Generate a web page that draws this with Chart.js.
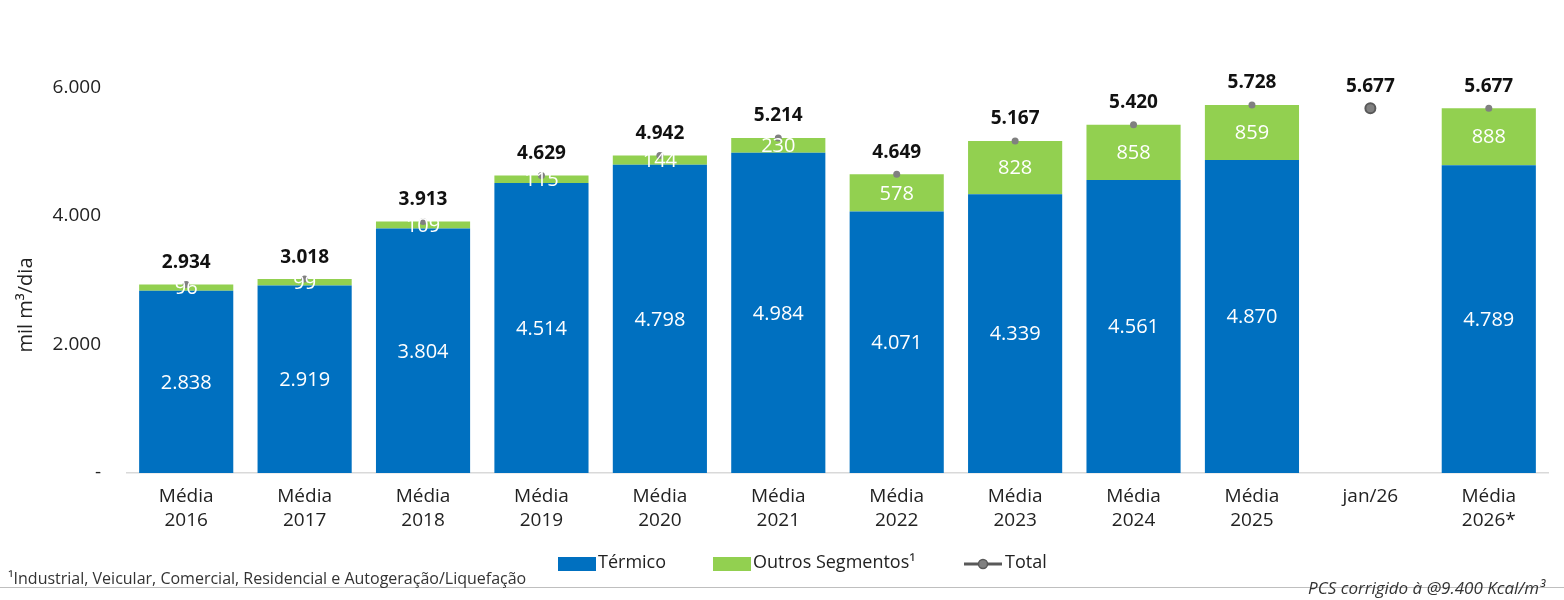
<!DOCTYPE html>
<html>
<head>
<meta charset="utf-8">
<script src="https://cdn.jsdelivr.net/npm/chart.js@4/dist/chart.umd.min.js"></script>
<style>
  html, body { margin: 0; padding: 0; background: #ffffff; }
  #wrap { position: relative; width: 1564px; height: 600px; }
</style>
</head>
<body>
<div id="wrap"><canvas id="c" width="1564" height="600"></canvas></div>
<script>
const categories = [["Média","2016"],["Média","2017"],["Média","2018"],["Média","2019"],["Média","2020"],["Média","2021"],["Média","2022"],["Média","2023"],["Média","2024"],["Média","2025"],["jan/26"],["Média","2026*"]];
const termico = [2838, 2919, 3804, 4514, 4798, 4984, 4071, 4339, 4561, 4870, null, 4789];
const outros = [96, 99, 109, 115, 144, 230, 578, 828, 858, 859, null, 888];
const total = [2934, 3018, 3913, 4629, 4942, 5214, 4649, 5167, 5420, 5728, 5677, 5677];
const yTicks = [0, 2000, 4000, 6000];
const seriesNames = ["Térmico", "Outros Segmentos¹", "Total"];
const yTitle = "mil m³/dia";
const footnote = "¹Industrial, Veicular, Comercial, Residencial e Autogeração/Liquefação";
const sourceNote = "PCS corrigido à @9.400 Kcal/m³";

const FONT = "'Open Sans', sans-serif";
const BLUE = "#0070C0";
const GREEN = "#92D050";

function fmt(v) {
  return String(Math.round(v)).replace(/\B(?=(\d{3})+(?!\d))/g, ".");
}

const labelsPlugin = {
  id: 'labelsPlugin',
  afterDatasetsDraw(chart) {
    const ctx = chart.ctx;
    ctx.save();
    ctx.textAlign = 'center';
    ctx.textBaseline = 'middle';
    [0, 1].forEach(di => {
      const meta = chart.getDatasetMeta(di);
      const data = chart.data.datasets[di].data;
      meta.data.forEach((el, i) => {
        if (data[i] == null) return;
        const y = (el.y + el.base) / 2;
        ctx.fillStyle = '#ffffff';
        ctx.font = "20px " + FONT;
        ctx.fillText(fmt(data[i]), el.x, y + 1);
      });
    });
    const meta = chart.getDatasetMeta(2);
    meta.data.forEach((el, i) => {
      ctx.fillStyle = '#111111';
      ctx.font = "bold 19px " + FONT;
      ctx.fillText(fmt(total[i]), el.x, el.y - 22);
    });
    ctx.restore();
  },
  afterDraw(chart) {
    const ctx = chart.ctx;
    ctx.save();
    ctx.translate(26, 305);
    ctx.rotate(-Math.PI / 2);
    ctx.textAlign = 'center';
    ctx.textBaseline = 'middle';
    ctx.fillStyle = '#222222';
    ctx.font = "20px " + FONT;
    ctx.fillText(yTitle, 0, 0);
    ctx.restore();

    ctx.save();
    ctx.strokeStyle = '#bfbfbf';
    ctx.lineWidth = 1;
    ctx.beginPath();
    ctx.moveTo(0, 587.5);
    ctx.lineTo(1564, 587.5);
    ctx.stroke();

    ctx.textBaseline = 'middle';
    ctx.textAlign = 'left';
    ctx.font = "18px " + FONT;
    ctx.fillStyle = BLUE;
    ctx.fillRect(558, 557, 38, 14);
    ctx.fillStyle = '#222222';
    ctx.fillText(seriesNames[0], 598, 563);
    ctx.fillStyle = GREEN;
    ctx.fillRect(713, 557, 38, 14);
    ctx.fillStyle = '#222222';
    ctx.fillText(seriesNames[1], 753, 563);
    ctx.strokeStyle = '#595959';
    ctx.lineWidth = 3;
    ctx.beginPath();
    ctx.moveTo(964, 564);
    ctx.lineTo(1002, 564);
    ctx.stroke();
    ctx.beginPath();
    ctx.arc(983, 564, 4.5, 0, Math.PI * 2);
    ctx.fillStyle = '#808080';
    ctx.fill();
    ctx.lineWidth = 1.5;
    ctx.stroke();
    ctx.fillStyle = '#222222';
    ctx.fillText(seriesNames[2], 1005, 563);

    ctx.font = "16px " + FONT;
    ctx.fillStyle = '#333333';
    ctx.fillText(footnote, 8, 579);
    ctx.font = "italic 17px " + FONT;
    ctx.textAlign = 'right';
    ctx.fillText(sourceNote, 1545, 589);
    ctx.restore();
  }
};

new Chart(document.getElementById('c'), {
  type: 'bar',
  data: {
    labels: categories,
    datasets: [
      { label: seriesNames[0], data: termico, backgroundColor: BLUE, stack: 's', order: 2,
        categoryPercentage: 1, barPercentage: 0.795 },
      { label: seriesNames[1], data: outros, backgroundColor: GREEN, stack: 's', order: 2,
        categoryPercentage: 1, barPercentage: 0.795 },
      { label: seriesNames[2], data: total, type: 'line', showLine: false, order: 1,
        pointRadius: ctx => ctx.dataIndex === 10 ? 5 : 3.5,
        pointBackgroundColor: '#808080',
        pointBorderColor: ctx => ctx.dataIndex === 10 ? '#595959' : '#808080',
        pointBorderWidth: ctx => ctx.dataIndex === 10 ? 2 : 0,
        pointHoverRadius: 0 }
    ]
  },
  options: {
    responsive: false,
    animation: false,
    events: [],
    layout: { padding: { top: 6, left: 0, right: 16, bottom: 0 } },
    plugins: { legend: { display: false }, tooltip: { enabled: false } },
    scales: {
      x: {
        stacked: true,
        offset: true,
        grid: { display: false, drawTicks: false },
        border: { display: true, color: '#d9d9d9', width: 1.5 },
        ticks: { color: '#222222', font: { family: FONT, size: 19, lineHeight: 1.25 }, padding: 12, maxRotation: 0, autoSkip: false },
        afterFit: s => { s.height = 127; }
      },
      y: {
        stacked: true,
        min: 0,
        max: 6780,
        grid: { display: false, drawTicks: false },
        border: { display: false },
        afterBuildTicks: s => { s.ticks = yTicks.map(v => ({ value: v })); },
        ticks: { color: '#222222', font: { family: FONT, size: 19 }, padding: 26,
          callback: v => v === 0 ? '-' : fmt(v) },
        afterFit: s => { s.width = 127; }
      }
    }
  },
  plugins: [labelsPlugin]
});
</script>
</body>
</html>
